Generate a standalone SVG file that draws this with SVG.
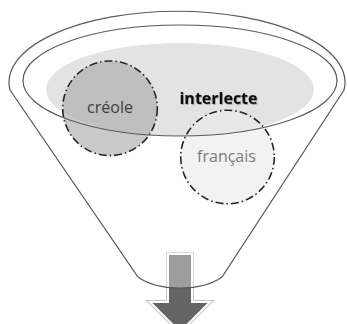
<svg xmlns="http://www.w3.org/2000/svg" width="347" height="324" viewBox="0 0 347 324">
<defs>
<style>
.line{fill:none;stroke:#5a5a5a;stroke-width:1.2}
.dash{stroke:#262626;stroke-width:1.6;stroke-dasharray:8 3 1.5 3}
.txt{font-family:"Open Sans","Noto Sans","Liberation Sans",sans-serif;font-size:16px;text-anchor:middle}
</style>
<clipPath id="innerClip"><ellipse cx="180" cy="80.5" rx="157" ry="55.5"/></clipPath>
<filter id="shadow" x="-10%" y="-30%" width="120%" height="160%">
<feDropShadow dx="0.8" dy="0.8" stdDeviation="0.6" flood-color="#000" flood-opacity="0.35"/>
</filter>
</defs>
<rect width="347" height="324" fill="#fff"/>
<g id="arrow">
<path d="M168,254 H192 V302 H210 L180,332 L150,302 H168 Z" fill="none" stroke="#c4c4c4" stroke-width="4" stroke-linejoin="miter"/>
<path d="M168,254 H192 V302 H210 L180,332 L150,302 H168 Z" fill="#646464" stroke="#fff" stroke-width="2"/>
</g>
<g id="funnel">
<path d="M10,90 A168,71 0 1 1 344,90 L222,277 A50,24 0 0 1 138,277 Z" fill="#fff" fill-opacity="0.36" stroke="#5a5a5a" stroke-width="1.2"/>
</g>
<g id="interlecte-area">
<ellipse cx="180" cy="89.5" rx="134" ry="46.5" fill="#e3e3e3" clip-path="url(#innerClip)"/>
</g>
<g id="creole">
<circle cx="110" cy="108.3" r="47.3" fill="#ababab" fill-opacity="0.64" class="dash"/>
</g>
<g id="francais">
<circle cx="227.5" cy="157" r="46.8" fill="#ebebeb" fill-opacity="0.64" class="dash"/>
</g>
<g id="inner-rim">
<ellipse cx="180" cy="80.5" rx="157" ry="55.5" class="line"/>
</g>
<g id="labels">
<text x="110" y="113" class="txt" fill="#404040">créole</text>
<text x="218.5" y="104" class="txt" font-weight="bold" fill="#0d0d0d" filter="url(#shadow)">interlecte</text>
<text x="226.5" y="162" class="txt" fill="#7a7a7a">français</text>
</g>
</svg>
